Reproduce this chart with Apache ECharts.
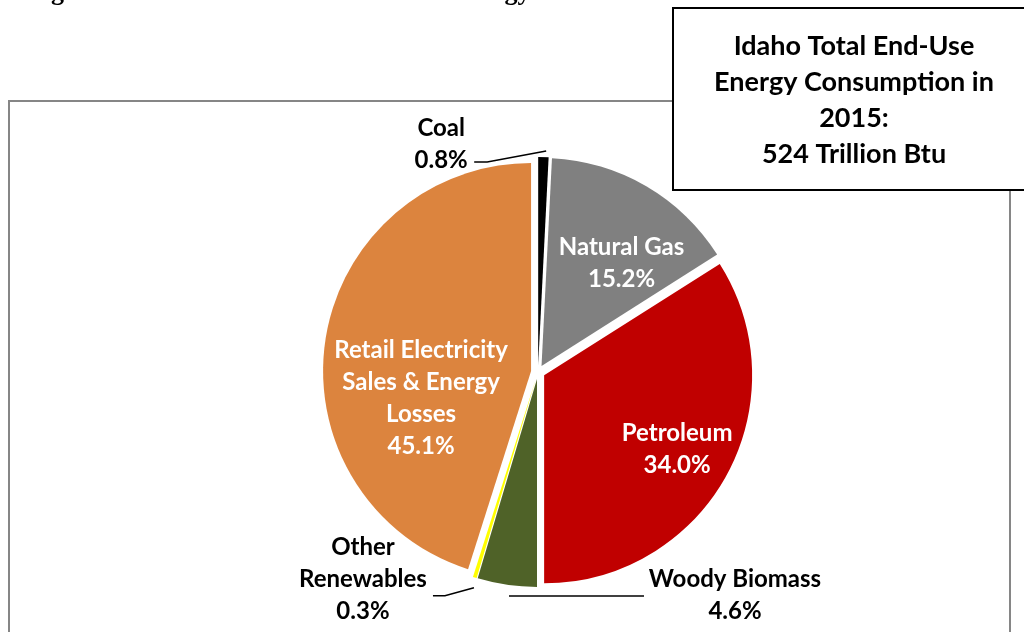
<!DOCTYPE html>
<html>
<head>
<meta charset="utf-8">
<script src="https://cdn.jsdelivr.net/npm/echarts@6/dist/echarts.min.js"></script>
<style>
  html, body { margin: 0; padding: 0; background: #fff; }
  #energyPie { width: 1024px; height: 632px; }
</style>
</head>
<body>
<div id="energyPie"></div>
<script>
// 2015 Idaho end-use energy shares (%), clockwise from 12 o'clock
const sources = ['Coal', 'Natural Gas', 'Petroleum', 'Woody Biomass', 'Other Renewables', 'Retail Electricity Sales & Energy Losses'];
const labelNames = ['Coal', 'Natural Gas', 'Petroleum', 'Woody Biomass', 'Other\nRenewables', 'Retail Electricity\nSales & Energy\nLosses'];
const shares = [0.8, 15.2, 34.0, 4.6, 0.3, 45.1];
const colors = ['#000000', '#808080', '#C00000', '#4F6228', '#FFFF00', '#DC843E'];
const insideLabels = ['Natural Gas', 'Petroleum', 'Retail Electricity Sales & Energy Losses'];
const boxLines = ['Idaho Total End-Use', 'Energy Consumption in', '2015:', '524 Trillion Btu'];
const figureTitle = 'Figure 4.1: Sources of Idaho End-Use Energy Consumed in 2015';

const chartEle = document.getElementById('energyPie');
const myChart = echarts.init(chartEle);

const pieData = sources.map((name, i) => {
  const inside = insideLabels.indexOf(name) > -1;
  return {
    name: name,
    value: shares[i],
    selected: true,
    itemStyle: { color: colors[i] },
    label: {
      position: inside ? 'inside' : 'outside',
      color: inside ? '#ffffff' : '#000000'
    },
    labelLine: { show: !inside }
  };
});

// where Excel put each label (centre of the text block) + leader lines
const labelSpots = [
  { x: 441, y: 151, line: [[546, 158], [487, 169], [474, 169]] },
  { x: 618, y: 269 },
  { x: 671, y: 446 },
  { x: 736, y: 588, line: [[510, 589], [645, 589]] },
  { x: 365, y: 573, line: [[476, 581], [447, 589], [435, 589]] },
  { x: 428, y: 399 }
];

const option = {
  animation: false,
  graphic: [
    {
      type: 'text',
      left: 28,
      top: -20,
      z: 1,
      style: {
        text: figureTitle,
        font: 'bold 26px "Liberation Serif"',
        fill: '#000'
      }
    },
    {
      type: 'rect',
      shape: { x: 9, y: 101, width: 1001, height: 600 },
      z: 1,
      style: { fill: 'none', stroke: '#868686', lineWidth: 2 }
    },
    {
      type: 'rect',
      shape: { x: 673, y: 8, width: 400, height: 182 },
      z: 10,
      style: { fill: '#fff', stroke: '#000', lineWidth: 2 }
    },
    {
      type: 'text',
      x: 854,
      y: 100,
      z: 11,
      style: {
        text: boxLines.join('\n'),
        font: 'bold 27px Lato',
        lineHeight: 36,
        fill: '#000',
        align: 'center',
        verticalAlign: 'middle'
      }
    }
  ],
  series: [
    {
      type: 'pie',
      center: [538, 372],
      radius: 208,
      startAngle: 90,
      clockwise: true,
      selectedMode: 'multiple',
      selectedOffset: 7,
      avoidLabelOverlap: false,
      itemStyle: { borderWidth: 0 },
      emphasis: { disabled: true },
      label: {
        show: true,
        fontFamily: 'Lato',
        fontWeight: 'bold',
        fontSize: 24,
        lineHeight: 32,
        align: 'center',
        formatter: p => labelNames[p.dataIndex] + '\n' + p.value.toFixed(1) + '%'
      },
      labelLine: {
        show: true,
        lineStyle: { color: '#000', width: 1.5 }
      },
      labelLayout: params => {
        const spot = labelSpots[params.dataIndex];
        const r = params.labelRect;
        // anchor x of the default label, then re-centre every line on it
        let anchorX = r.x + r.width / 2;
        if (params.align === 'left') anchorX = r.x;
        if (params.align === 'right') anchorX = r.x + r.width;
        const res = {
          align: 'center',
          dx: spot.x - anchorX,
          dy: spot.y - (r.y + r.height / 2)
        };
        if (spot.line) res.labelLinePoints = spot.line;
        return res;
      },
      data: pieData
    }
  ]
};
myChart.setOption(option);
</script>
</body>
</html>
